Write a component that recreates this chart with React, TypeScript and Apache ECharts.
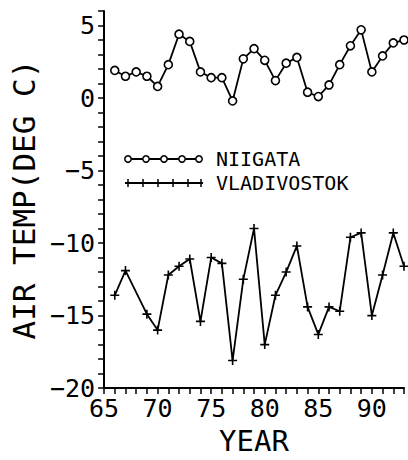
import React, { useEffect, useRef } from 'react';
import * as echarts from 'echarts';

const years = [66, 67, 68, 69, 70, 71, 72, 73, 74, 75, 76, 77, 78, 79, 80, 81, 82, 83, 84, 85, 86, 87, 88, 89, 90, 91, 92, 93];
const niigata = [1.9, 1.5, 1.8, 1.5, 0.8, 2.3, 4.4, 3.9, 1.8, 1.4, 1.4, -0.2, 2.7, 3.4, 2.6, 1.2, 2.4, 2.8, 0.4, 0.1, 0.9, 2.3, 3.6, 4.7, 1.8, 2.9, 3.8, 4.0];
const vladivostok = [-13.6, -11.9, null, -14.9, -16.0, -12.2, -11.6, -11.1, -15.4, -11.0, -11.4, -18.1, -12.5, -9.0, -17.0, -13.6, -12.0, -10.2, -14.4, -16.3, -14.4, -14.7, -9.6, -9.3, -15.0, -12.2, -9.3, -11.6];
const seriesNames = ['NIIGATA', 'VLADIVOSTOK'];
const xTitle = 'YEAR';
const yTitle = 'AIR TEMP(DEG C)';

const font = 'DejaVu Sans Mono';

export default function App() {
  const ref = useRef<HTMLDivElement>(null);
  useEffect(() => {
    const chart = echarts.init(ref.current!, null, { renderer: 'svg' });
    const cross = 'path://M0,5L10,5M5,0L5,10';
    const legendEls: any[] = [];
    // NIIGATA legend sample
    legendEls.push({ type: 'line', shape: { x1: 125, y1: 159, x2: 201, y2: 159 }, style: { stroke: '#000', lineWidth: 1.8 } });
    [128, 146, 164, 182, 199].forEach((cx) => {
      legendEls.push({ type: 'circle', shape: { cx, cy: 159, r: 3.2 }, style: { fill: '#fff', stroke: '#000', lineWidth: 1.5 } });
    });
    legendEls.push({ type: 'text', x: 216, y: 159, style: { text: seriesNames[0], font: `20px "${font}"`, fill: '#000', verticalAlign: 'middle' } });
    // VLADIVOSTOK legend sample
    legendEls.push({ type: 'line', shape: { x1: 125, y1: 183, x2: 203, y2: 183 }, style: { stroke: '#000', lineWidth: 1.8 } });
    [128, 143, 158, 173, 188, 201].forEach((cx) => {
      legendEls.push({ type: 'line', shape: { x1: cx, y1: 179, x2: cx, y2: 187 }, style: { stroke: '#000', lineWidth: 1.5 } });
    });
    legendEls.push({ type: 'text', x: 216, y: 183, style: { text: seriesNames[1], font: `20px "${font}"`, fill: '#000', verticalAlign: 'middle' } });

    chart.setOption({
      animation: false,
      backgroundColor: '#fff',
      grid: { left: 100, right: 4, top: 11, bottom: 57, containLabel: false },
      xAxis: {
        type: 'value',
        min: 65,
        max: 93,
        interval: 1,
        name: xTitle,
        nameLocation: 'middle',
        nameGap: 27,
        nameTextStyle: { fontFamily: font, fontSize: 29, color: '#000', verticalAlign: 'top' },
        axisLine: { show: true, onZero: false, lineStyle: { color: '#000', width: 2 } },
        axisTick: { show: true, inside: false, length: 6, lineStyle: { color: '#000', width: 1.5 } },
        axisLabel: {
          margin: 8,
          fontFamily: font,
          fontSize: 25,
          color: '#000',
          formatter: (v: number) => (v % 5 === 0 ? String(v) : ''),
        },
        splitLine: { show: false },
      },
      yAxis: {
        type: 'value',
        min: -20,
        max: 6,
        interval: 1,
        name: yTitle,
        nameLocation: 'middle',
        nameGap: 56,
        nameRotate: 90,
        nameTextStyle: { fontFamily: font, fontSize: 31, color: '#000' },
        axisLine: { show: true, onZero: false, lineStyle: { color: '#000', width: 2 } },
        axisTick: { show: true, inside: false, length: 6, lineStyle: { color: '#000', width: 1.5 } },
        axisLabel: {
          margin: 9,
          fontFamily: font,
          fontSize: 25,
          color: '#000',
          formatter: (v: number) => (v % 5 === 0 ? String(v).replace('-', '\u2212') : ''),
        },
        splitLine: { show: false },
      },
      series: [
        {
          name: seriesNames[0],
          type: 'line',
          data: years.map((y, i) => [y, niigata[i]]),
          symbol: 'circle',
          symbolSize: 8,
          showAllSymbol: true,
          lineStyle: { color: '#000', width: 1.8 },
          itemStyle: { color: '#fff', borderColor: '#000', borderWidth: 1.6 },
          z: 3,
        },
        {
          name: seriesNames[1],
          type: 'line',
          data: years.map((y, i) => [y, vladivostok[i]]),
          connectNulls: true,
          symbol: cross,
          symbolSize: 9,
          showAllSymbol: true,
          lineStyle: { color: '#000', width: 1.8 },
          itemStyle: { color: '#000', borderColor: '#000', borderWidth: 1.6 },
          z: 3,
        },
      ],
      graphic: { elements: legendEls },
    });
    return () => chart.dispose();
  }, []);
  return (
    <div
      ref={ref}
      style={{ position: 'absolute', left: 0, top: 0, width: 408, height: 460, background: '#fff' }}
    />
  );
}
